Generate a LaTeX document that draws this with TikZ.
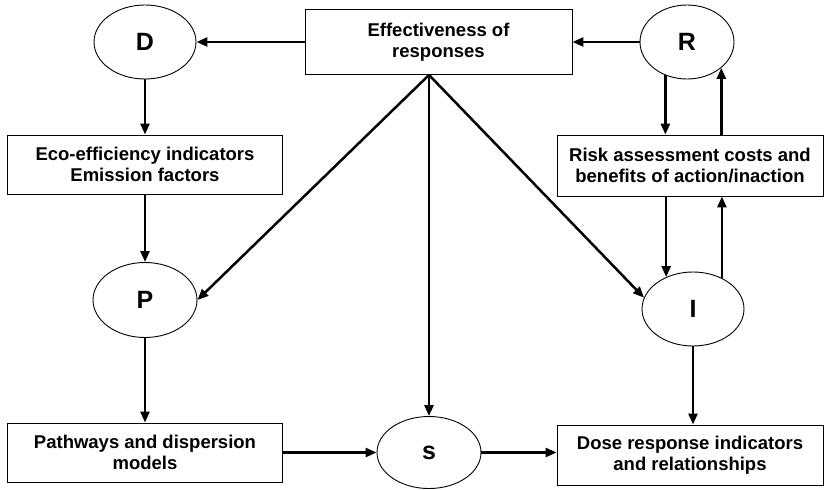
\documentclass[tikz,border=0pt]{standalone}
\usepackage{fontspec}
\setmainfont{Liberation Sans}
\usetikzlibrary{arrows.meta,shapes.geometric}
\begin{document}
\begin{tikzpicture}[x=1pt,y=-1pt,
  font=\fontsize{18.5}{21}\selectfont\bfseries,
  ell/.style={draw,ellipse,line width=0.9pt,inner sep=0pt,font=\fontsize{25}{25}\selectfont\bfseries},
  box/.style={draw,rectangle,line width=0.9pt,inner sep=0pt,align=center},
  arr/.style={line width=2.5pt,-{Triangle[length=11pt,width=9pt]}}]
\useasboundingbox (0,0) rectangle (825,490);
\node[ell,minimum width=102pt,minimum height=74pt] (D) at (145,42) {D};
\node[box,minimum width=267pt,minimum height=65pt] (eff) at (438.5,42) {Effectiveness of\\responses};
\node[ell,minimum width=94pt,minimum height=74pt] (R) at (687,42) {R};
\node[box,minimum width=275pt,minimum height=59pt] (eco) at (145,164.5) {Eco-efficiency indicators\\Emission factors};
\node[box,minimum width=266pt,minimum height=61pt] (risk) at (690,165.5) {Risk assessment costs and\\benefits of action/inaction};
\node[ell,minimum width=104pt,minimum height=75pt] (P) at (145,300) {P};
\node[ell,minimum width=102pt,minimum height=74pt] (I) at (693,309) {I};
\node[box,minimum width=275pt,minimum height=59pt] (path) at (145,452.5) {Pathways and dispersion\\models};
\node[ell,minimum width=104pt,minimum height=72pt] (S) at (429,452.5) {s};
\node[box,minimum width=266pt,minimum height=60pt] (dose) at (690,455) {Dose response indicators\\and relationships};
\coordinate (hub) at (eff.south -| S.north);
\draw[arr] (eff) -- (D);
\draw[arr] (R) -- (eff);
\draw[arr] (D) -- (eco);
\draw[arr] (eco) -- (P);
\draw[arr] (P) -- (path);
\draw[arr] (path) -- (S);
\draw[arr] (S.east) -- (S.east -| dose.west);
\draw[arr] (hub) -- (S.north);
\draw[arr] (hub) -- (P.east);
\draw[arr] (hub) -- (I.167);
\draw[arr] (R.237.5) -- (R.237.5 |- risk.north);
\draw[arr] (R.323 |- risk.north) -- (R.323);
\draw[arr] (I.130.7 |- risk.south) -- (I.130.7);
\draw[arr] (I.47.8) -- (I.47.8 |- risk.south);
\draw[arr] (I.south) -- (I.south |- dose.north);
\end{tikzpicture}
\end{document}
